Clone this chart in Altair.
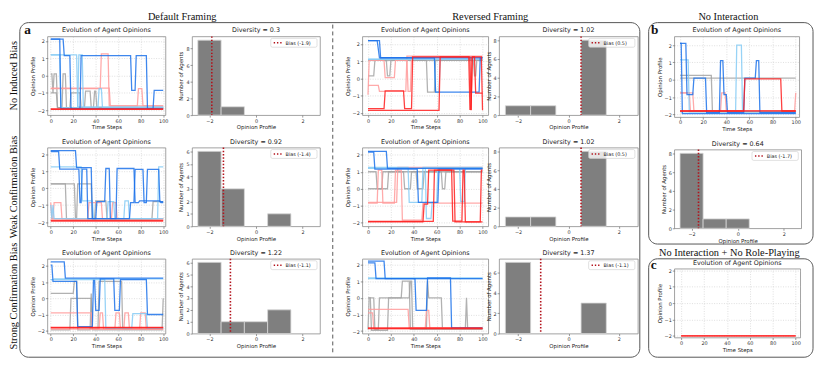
import altair as alt
import pandas as pd

# ---------------- data ----------------
CATS = ["gray", "pink", "lb", "db", "red"]
CAT_COLORS = ["#a3a3a3", "#ff9b9b", "#86cbf5", "#1c72ea", "#ff1f1f"]

X_TICKS = [0, 20, 40, 60, 80, 100]
Y_TICKS = [-2, -1, 0, 1, 2]
HX_TICKS = [-2, -1, 0, 1, 2]
BIN_CENTERS = [-2, -1, 0, 1, 2]

# Default framing, no induced bias
D1_AGENTS = [
    ("gray", [[0, 0.1], [1, 0.1], [2, -1.0], [3, 0.1], [5, 0.1], [6, -1.85], [10, -1.85], [11, 0.1], [13, 0.1], [14, -1.85], [100, -1.85]]),
    ("gray", [[0, -1.0], [5, -1.0], [6, -1.85], [17, -1.85], [18, -1.0], [26, -1.0], [27, -1.85], [30, -1.85], [31, -0.9], [35, -0.9], [36, -1.85], [38, -1.85], [39, -0.9], [40, -0.9], [41, -1.85], [100, -1.85]]),
    ("pink", [[0, -0.75], [44, -0.75], [45, 1.25], [51, 1.25], [52, -1.75], [100, -1.75]]),
    ("pink", [[0, -0.72], [52, -0.72], [53, -1.75], [77, -1.75], [78, -0.75], [81, -0.75], [82, -1.75], [100, -1.75]]),
    ("lb", [[0, 1.2], [23, 1.2], [24, -1.8], [100, -1.8]]),
    ("lb", [[0, 1.2], [8, 1.2], [9, -1.85], [24, -1.85], [25, 1.2], [28, 1.2], [29, -1.85], [42, -1.85], [43, -0.75], [45, -0.75], [46, -1.85], [100, -1.85]]),
    ("db", [[0, 2.1], [8, 2.1], [9, -1.9], [26, -1.9], [27, 1.15], [71, 1.15], [72, -0.85], [75, -0.85], [76, 1.15], [85, 1.15], [86, -1.9], [91, -1.9], [92, -0.85], [100, -0.85]]),
    ("db", [[0, 2.1], [11, 2.1], [12, 1.15], [17, 1.15], [18, -1.9], [100, -1.9]]),
    ("red", [[0, -1.95], [100, -1.95]]),
    ("red", [[0, -1.92], [100, -1.92]]),
]
# Default framing, weak confirmation bias
D2_AGENTS = [
    ("gray", [[0, 0.25], [21, 0.25], [22, -1.8], [100, -1.8]]),
    ("gray", [[0, 0.25], [13, 0.25], [14, -1.8], [23, -1.8], [24, 0.25], [36, 0.25], [37, -1.8], [39, -1.8], [40, -0.75], [49, -0.75], [50, -1.8], [90, -1.8], [91, -0.8], [100, -0.8]]),
    ("pink", [[0, -1.8], [2, -1.8], [3, -0.85], [9, -0.85], [10, -1.8], [100, -1.8]]),
    ("pink", [[0, -0.85], [1, -1.8], [33, -1.8], [34, -0.85], [45, -0.85], [46, -1.8], [54, -1.8], [55, -0.85], [58, -0.85], [59, -1.8], [100, -1.8]]),
    ("lb", [[0, 1.25], [27, 1.25], [28, -0.75], [37, -0.75], [38, -1.8], [95, -1.8], [96, 1.25], [100, 1.25]]),
    ("lb", [[0, -1.0], [1, -1.8], [2, -1.0], [3, -1.8], [50, -1.8], [51, -0.8], [56, -0.8], [57, -1.8], [65, -1.8], [66, -0.75], [69, -0.75], [70, -1.8], [100, -1.8]]),
    ("db", [[0, 2.2], [22, 2.2], [23, 1.2], [36, 1.2], [37, -1.8], [40, -1.8], [41, -0.8], [48, -0.8], [49, 1.15], [52, 1.15], [53, -1.8], [58, -1.8], [59, 1.15], [74, 1.15], [75, -0.85], [78, -0.85], [79, -0.75], [97, -0.75], [98, -0.85], [100, -0.85]]),
    ("db", [[0, 2.15], [7, 2.15], [8, 1.12], [25, 1.12], [26, -0.85], [27, -0.85], [28, 1.12], [32, 1.12], [33, -1.8], [70, -1.8], [71, -0.85], [74, -0.85], [75, 1.1], [82, 1.1], [83, -0.85], [85, -0.85], [86, 1.1], [96, 1.1], [97, -0.8], [100, -0.8]]),
    ("red", [[0, -1.95], [100, -1.95]]),
    ("red", [[0, -1.9], [100, -1.9]]),
]
# Default framing, strong confirmation bias
D3_AGENTS = [
    ("gray", [[0, 0.3], [20, 0.3], [21, 1.05], [23, 1.05], [24, -1.95], [35, -1.95], [36, 0.3], [37, -1.95], [100, -1.95]]),
    ("gray", [[0, -1.95], [17, -1.95], [18, 0.0], [36, 0.0], [37, -1.9], [42, -1.9], [43, 1.05], [63, 1.05], [64, -1.9], [99, -1.9], [100, 0.0]]),
    ("pink", [[0, -0.9], [36, -0.9], [37, -1.9], [43, -1.9], [44, -0.9], [46, -0.9], [47, -1.9], [57, -1.9], [58, -0.9], [61, -0.9], [62, -1.9], [100, -1.9]]),
    ("pink", [[0, -1.9], [65, -1.9], [66, -0.9], [69, -0.9], [70, -1.9], [79, -1.9], [80, -0.9], [84, -0.9], [85, -1.9], [100, -1.9]]),
    ("lb", [[0, 1.15], [2, 1.15], [3, 1.2], [100, 1.2]]),
    ("lb", [[0, 1.15], [48, 1.15], [49, -1.85], [72, -1.85], [73, -0.95], [85, -0.95], [86, -1.85], [100, -1.85]]),
    ("db", [[0, 2.25], [12, 2.25], [13, 1.25], [100, 1.25]]),
    ("db", [[0, 2.05], [1, 2.05], [2, 1.05], [23, 1.05], [24, -1.75], [37, -1.75], [38, 1.1], [39, 1.1], [40, -0.75], [43, -0.75], [44, 1.2], [56, 1.2], [57, -0.75], [61, -0.75], [62, 1.15], [85, 1.15], [86, -1.0], [100, -1.0]]),
    ("red", [[0, -1.8], [100, -1.8]]),
    ("red", [[0, -1.82], [100, -1.82]]),
]
# Reversed framing, no induced bias
R1_AGENTS = [
    ("gray", [[0, 0.15], [5, 0.15], [6, 1.05], [16, 1.05], [17, 0.15], [19, 0.15], [20, 1.05], [51, 1.05], [52, -0.8], [58, -0.8], [59, 1.05], [92, 1.05], [93, 0.15], [94, 0.15], [95, 1.05], [100, 1.05]]),
    ("gray", [[0, 1.05], [100, 1.05]]),
    ("pink", [[0, -0.95], [1, 1.05], [14, 1.05], [15, 0.05], [23, 0.05], [24, 1.05], [34, 1.05], [35, -0.75], [37, -0.75], [38, 1.25], [100, 1.25]]),
    ("pink", [[0, -0.4], [9, -0.4], [10, -0.75], [33, -0.75], [34, 1.3], [100, 1.3]]),
    ("lb", [[0, 1.1], [100, 1.1]]),
    ("lb", [[0, 1.12], [58, 1.12], [59, -0.8], [62, -0.8], [63, 1.12], [100, 1.12]]),
    ("db", [[0, 2.2], [8, 2.2], [10, 1.2], [58, 1.2], [59, -0.8], [97, -0.8], [98, 1.2], [100, 1.2]]),
    ("db", [[0, 2.2], [10, 2.2], [11, 1.2], [100, 1.2]]),
    ("red", [[0, -1.75], [14, -1.75], [15, -0.72], [31, -0.72], [32, -1.75], [38, -1.75], [39, 1.25], [88, 1.25], [89, -1.8], [90, -1.8], [91, 1.25], [93, 1.25], [94, -0.85], [100, -0.85]]),
    ("red", [[0, -1.85], [62, -1.85], [63, 1.25], [89, 1.25], [90, -1.85], [91, 1.25], [99, 1.25], [100, -1.85]]),
]
# Reversed framing, weak confirmation bias
R2_AGENTS = [
    ("gray", [[0, 1.0], [7, 1.0], [8, 0.0], [12, 0.0], [13, 1.0], [31, 1.0], [32, 0.0], [37, 0.0], [38, 1.0], [100, 1.0]]),
    ("gray", [[0, 0.0], [17, 0.0], [18, 1.0], [42, 1.0], [43, 0.0], [48, 0.0], [49, 1.0], [64, 1.0], [65, 0.0], [67, 0.0], [68, 1.0], [100, 1.0]]),
    ("pink", [[0, -0.85], [8, -0.85], [9, 1.1], [12, 1.1], [13, -0.85], [23, -0.85], [24, 1.1], [29, 1.1], [30, -1.85], [47, -1.85], [48, -0.85], [100, -0.85]]),
    ("pink", [[0, -0.8], [25, -0.8], [26, 1.25], [100, 1.25]]),
    ("lb", [[0, 1.25], [35, 1.25], [36, -0.8], [47, -0.8], [48, 1.25], [100, 1.25]]),
    ("lb", [[0, 1.2], [50, 1.2], [51, -1.75], [55, -1.75], [56, -0.8], [60, -0.8], [61, 1.2], [80, 1.2], [81, -0.75], [84, -0.75], [85, 1.2], [100, 1.2]]),
    ("db", [[0, 2.2], [16, 2.2], [17, 1.2], [100, 1.2]]),
    ("db", [[0, 2.15], [5, 2.15], [6, 1.15], [43, 1.15], [44, -0.8], [61, -0.8], [62, 1.15], [100, 1.15]]),
    ("red", [[0, -1.95], [48, -1.95], [49, -0.9], [52, -0.9], [53, 1.1], [75, 1.1], [76, -1.95], [98, -1.95], [99, 1.1], [100, 1.1]]),
    ("red", [[0, -1.92], [57, -1.92], [58, 1.1], [73, 1.1], [74, -1.9], [82, -1.9], [83, 1.1], [84, 1.1], [85, -1.95], [100, -1.95]]),
]
# Reversed framing, strong confirmation bias
R3_AGENTS = [
    ("gray", [[0, 0.0], [2, 0.0], [3, -1.95], [17, -1.95], [18, 0.0], [29, 0.0], [30, 1.0], [36, 1.0], [37, -1.9], [100, -1.9]]),
    ("gray", [[0, -1.9], [1, 0.0], [5, 0.0], [6, -1.9], [9, -1.9], [10, 0.0], [36, 0.0], [37, 1.0], [38, 1.0], [39, -1.85], [51, -1.85], [52, 1.0], [53, 0.0], [64, 0.0], [65, -1.85], [85, -1.85], [86, 0.0], [87, -1.85], [100, -1.85]]),
    ("pink", [[0, -0.7], [35, -0.7], [36, -1.8], [100, -1.8]]),
    ("pink", [[0, -0.9], [4, -0.9], [5, -1.85], [50, -1.85], [51, -0.75], [53, -0.75], [54, -1.85], [100, -1.85]]),
    ("lb", [[0, 1.15], [100, 1.15]]),
    ("lb", [[0, 1.2], [100, 1.2]]),
    ("db", [[0, 2.2], [14, 2.2], [15, 1.15], [100, 1.15]]),
    ("db", [[0, 2.1], [6, 2.1], [7, 1.15], [41, 1.15], [42, -0.75], [51, -0.75], [52, 1.2], [72, 1.2], [73, -1.8], [100, -1.8]]),
    ("red", [[0, -1.8], [100, -1.8]]),
    ("red", [[0, -1.85], [100, -1.85]]),
]
# No interaction
B_AGENTS = [
    ("gray", [[0, 0.25], [27, 0.25], [28, -1.85], [100, -1.85]]),
    ("gray", [[0, 0.1], [100, 0.1]]),
    ("pink", [[0, -0.75], [11, -0.75], [12, -1.8], [35, -1.8], [36, -0.75], [39, -0.75], [40, -1.8], [99, -1.8], [100, -0.75]]),
    ("pink", [[0, -0.75], [8, -0.75], [9, -1.8], [100, -1.8]]),
    ("lb", [[0, 1.15], [7, 1.15], [8, -1.85], [100, -1.85]]),
    ("lb", [[0, -1.85], [48, -1.85], [49, 2.0], [53, 2.0], [54, -1.85], [100, -1.85]]),
    ("db", [[0, 2.1], [5, 2.1], [6, -0.85], [11, -0.85], [12, 0.1], [22, 0.1], [23, -1.9], [34, -1.9], [35, 1.1], [37, 1.1], [38, -0.85], [40, -0.85], [41, -1.9], [55, -1.9], [56, 0.1], [65, 0.1], [66, 1.1], [68, 1.1], [69, -1.9], [100, -1.9]]),
    ("db", [[0, 2.1], [1, 2.1], [2, -1.95], [100, -1.95]]),
    ("red", [[0, -1.8], [100, -1.8]]),
    ("red", [[0, -1.8], [55, -1.8], [56, 0.05], [87, 0.05], [88, -1.8], [100, -1.8]]),
]
# No interaction + no role-playing
C_AGENTS = [
    ("red", [[0, -2.0], [100, -2.0]]),
    ("red", [[0, -2.0], [100, -2.0]]),
]

D1_COUNTS = [9, 1, 0, 0, 0]
D2_COUNTS = [6, 3, 0, 1, 0]
D3_COUNTS = [6, 1, 1, 2, 0]
R1_COUNTS = [1, 1, 0, 8, 0]
R2_COUNTS = [1, 1, 0, 8, 0]
R3_COUNTS = [7, 0, 0, 3, 0]
B_COUNTS = [8, 1, 1, 0, 0]

D1_BIAS, D2_BIAS, D3_BIAS = -1.9, -1.4, -1.1
R1_BIAS, R2_BIAS, R3_BIAS = 0.5, 0.5, -1.1
B_BIAS = -1.7

D1_DIV, D2_DIV, D3_DIV = "0.3", "0.92", "1.22"
R1_DIV, R2_DIV, R3_DIV = "1.02", "1.02", "1.37"
B_DIV = "0.64"

BIAS_COLOR = "#b3121b"
FRAME = "#555555"
SERIF = "Liberation Serif"
SANS = "DejaVu Sans"

ONE = pd.DataFrame({"k": [0]})


# ---------------- helpers ----------------
def deco_text(txt, x, y, size=10.5, bold=False, angle=0, font=SERIF, color="#111111"):
    kw = dict(align="center", baseline="middle", fontSize=size, font=font, fill=color, opacity=1)
    if bold:
        kw["fontWeight"] = "bold"
    if angle:
        kw["angle"] = angle
    return alt.Chart(ONE).mark_text(**kw).encode(x=alt.value(x), y=alt.value(y), text=alt.value(txt))


def panel_title(txt, w):
    return deco_text(txt, w / 2, -6, size=6.5, font=SANS, color="#222222")


def deco_box(x0, x1, y0, y1):
    return alt.Chart(ONE).mark_rect(fillOpacity=0, stroke=FRAME, strokeWidth=1, cornerRadius=9).encode(
        x=alt.value(x0), x2=alt.value(x1), y=alt.value(y0), y2=alt.value(y1))


def deco_vdash(x, y0, y1):
    return alt.Chart(ONE).mark_rule(color=FRAME, strokeWidth=1, strokeDash=[4, 3]).encode(
        x=alt.value(x), y=alt.value(y0), y2=alt.value(y1))


def line_panel(agents, ydom, xdom, w, h, extra=()):
    rows = []
    for i, (cat, pts) in enumerate(agents):
        for t, v in pts:
            rows.append({"agent": i, "cat": cat, "t": t, "v": v})
    df = pd.DataFrame(rows)
    lines = alt.Chart(df).mark_line(strokeWidth=1.3, opacity=0.85).encode(
        x=alt.X("t:Q", scale=alt.Scale(domain=xdom, nice=False, zero=False),
                axis=alt.Axis(values=X_TICKS, title="Time Steps", grid=True)),
        y=alt.Y("v:Q", scale=alt.Scale(domain=ydom, nice=False, zero=False),
                axis=alt.Axis(values=Y_TICKS, title="Opinion Profile", grid=True)),
        color=alt.Color("cat:N", scale=alt.Scale(domain=CATS, range=CAT_COLORS), legend=None),
        detail="agent:N",
    )
    return alt.layer(lines, panel_title("Evolution of Agent Opinions", w), *extra).properties(width=w, height=h)


def hist_panel(counts, bias, div, ytop, yticks, w, h):
    df = pd.DataFrame({"x0": [c - 0.5 for c in BIN_CENTERS], "x1": [c + 0.5 for c in BIN_CENTERS],
                       "n": counts, "n0": [0] * len(counts)})
    df = df[df["n"] > 0]
    bars = alt.Chart(df).mark_rect(color="#7f7f7f", stroke="#d6d6d6", strokeWidth=0.8).encode(
        x=alt.X("x0:Q", title="Opinion Profile", scale=alt.Scale(domain=[-2.75, 2.75], nice=False, zero=False),
                axis=alt.Axis(values=HX_TICKS, grid=False)),
        x2="x1:Q",
        y=alt.Y("n:Q", title="Number of Agents", scale=alt.Scale(domain=[0, ytop], nice=False),
                axis=alt.Axis(values=yticks, grid=False)),
        y2="n0:Q",
    )
    rule = alt.Chart(pd.DataFrame({"x0": [bias]})).mark_rule(
        color=BIAS_COLOR, strokeDash=[1.4, 1.9], strokeWidth=1.6).encode(x=alt.X("x0:Q", title="Opinion Profile"))
    box = alt.Chart(ONE).mark_rect(fill="white", fillOpacity=0.8, stroke="#cccccc", strokeWidth=0.6,
                                   cornerRadius=1.5).encode(
        x=alt.value(w - 50), x2=alt.value(w - 3), y=alt.value(2), y2=alt.value(11))
    sample = alt.Chart(ONE).mark_rule(color=BIAS_COLOR, strokeDash=[1.4, 1.9], strokeWidth=1.6).encode(
        x=alt.value(w - 47), x2=alt.value(w - 38), y=alt.value(6.5))
    txt = alt.Chart(ONE).mark_text(align="left", baseline="middle", fontSize=5, font=SANS, fill="#222222").encode(
        x=alt.value(w - 35), y=alt.value(6.7), text=alt.value(f"Bias ({bias})"))
    return alt.layer(bars, rule, box, sample, txt, panel_title(f"Diversity = {div}", w)).properties(width=w, height=h)


def spacer(w, h):
    return alt.Chart(ONE).mark_point(opacity=0).encode(x=alt.value(0), y=alt.value(0)).properties(
        width=w, height=h, view=alt.ViewBackground(stroke="transparent"))


# ---------------- layout ----------------
COLS = [120, 27, 130, 43, 128, 11, 141]
ROWS = [80, 33, 80, 33, 76]
XD_D = [-3, 102]
XD_R = [-5, 105]
BOX_BOTTOM = 326

L_D1 = line_panel(D1_AGENTS, [-2.28, 2.26], XD_D, COLS[0], ROWS[0], extra=[
    deco_box(-28, 602, -14, BOX_BOTTOM),
    deco_vdash(290, -12, BOX_BOTTOM - 2),
    deco_text("Default Framing", 137, -20),
    deco_text("a", -20, -6, size=13.5, bold=True),
    deco_text("No Induced Bias", -34, ROWS[0] / 2, angle=270),
])
L_D2 = line_panel(D2_AGENTS, [-2.25, 2.38], XD_D, COLS[0], ROWS[2], extra=[
    deco_text("Weak Confirmation Bias", -34, ROWS[2] / 2, angle=270),
])
L_D3 = line_panel(D3_AGENTS, [-2.18, 2.44], XD_D, COLS[0], ROWS[4], extra=[
    deco_text("Strong Confirmation Bias", -34, ROWS[4] / 2, angle=270),
])
H_D1 = hist_panel(D1_COUNTS, D1_BIAS, D1_DIV, 9.45, [0, 2, 4, 6, 8], COLS[2], ROWS[0])
H_D2 = hist_panel(D2_COUNTS, D2_BIAS, D2_DIV, 6.3, [0, 1, 2, 3, 4, 5, 6], COLS[2], ROWS[2])
H_D3 = hist_panel(D3_COUNTS, D3_BIAS, D3_DIV, 6.3, [0, 1, 2, 3, 4, 5, 6], COLS[2], ROWS[4])

L_R1 = line_panel(R1_AGENTS, [-2.13, 2.44], XD_R, COLS[4], ROWS[0], extra=[
    deco_text("Reversed Framing", 130, -20),
])
L_R2 = line_panel(R2_AGENTS, [-2.21, 2.42], XD_R, COLS[4], ROWS[2])
L_R3 = line_panel(R3_AGENTS, [-2.15, 2.34], XD_R, COLS[4], ROWS[4])
H_R1 = hist_panel(R1_COUNTS, R1_BIAS, R1_DIV, 8.4, [0, 2, 4, 6, 8], COLS[6], ROWS[0])
H_R2 = hist_panel(R2_COUNTS, R2_BIAS, R2_DIV, 8.4, [0, 2, 4, 6, 8], COLS[6], ROWS[2])
H_R3 = hist_panel(R3_COUNTS, R3_BIAS, R3_DIV, 7.35, [0, 2, 4, 6], COLS[6], ROWS[4])

grid = {
    (0, 0): L_D1, (0, 2): H_D1, (0, 4): L_R1, (0, 6): H_R1,
    (2, 0): L_D2, (2, 2): H_D2, (2, 4): L_R2, (2, 6): H_R2,
    (4, 0): L_D3, (4, 2): H_D3, (4, 4): L_R3, (4, 6): H_R3,
}
cells = []
for ri, rh in enumerate(ROWS):
    for ci, cw in enumerate(COLS):
        cells.append(grid.get((ri, ci), spacer(cw, rh)))

A = alt.concat(*cells, columns=len(COLS), spacing=0, bounds="flush")

# column b / c (rows relative to the same top as row 1 of panel a)
B_ROWS = [82, 33, 80, 41, 70]   # b line, gap, b hist, gap, c line
C_TOP = sum(B_ROWS[:4])
L_B = line_panel(B_AGENTS, [-2.15, 2.5], [-5, 103], 127, B_ROWS[0], extra=[
    deco_box(-26, 141, -14, B_ROWS[0] + B_ROWS[1] + B_ROWS[2] + 16),
    deco_text("No Interaction", 55, -20),
    deco_text("b", -20, -6, size=13.5, bold=True),
])
H_B = hist_panel(B_COUNTS, B_BIAS, B_DIV, 8.4, [0, 2, 4, 6, 8], 129, B_ROWS[2])
L_C = line_panel(C_AGENTS, [-2.1, 2.1], [-6, 104], 128, B_ROWS[4], extra=[
    deco_box(-26, 141, -10, BOX_BOTTOM - C_TOP),
    deco_text("No Interaction + No Role-Playing", 56, -16),
    deco_text("c", -21, -4, size=13.5, bold=True),
])
B = alt.vconcat(L_B, spacer(129, B_ROWS[1]), H_B, spacer(129, B_ROWS[3]), L_C, spacing=0, bounds="flush")

chart = alt.hconcat(A, B, spacing=7).properties(padding=0, background="white").configure_view(
    stroke="#8a8a8a", strokeWidth=0.8
).configure_axis(
    labelFont=SANS, titleFont=SANS, labelFontSize=5, titleFontSize=5.5, titleFontWeight="normal",
    labelColor="#333333", titleColor="#222222", tickColor="#555555", tickSize=2, tickWidth=0.6,
    domain=False, labelPadding=1, titlePadding=2, gridColor="#c8c8c8", gridDash=[1, 1.5], gridWidth=0.6,
)

chart.save("out.html", embed_options={"renderer": "svg", "actions": False})
